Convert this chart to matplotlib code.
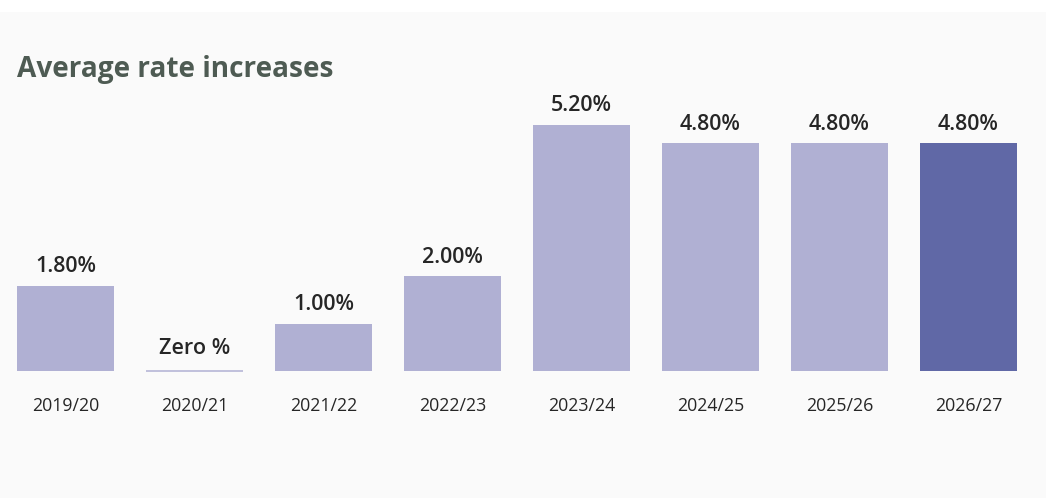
import matplotlib
matplotlib.use("Agg")
import matplotlib.pyplot as plt
from matplotlib.patches import Rectangle

plt.rcParams['font.family'] = ['Open Sans', 'DejaVu Sans']

# Financial years and average rate increases (%)
years = ["2019/20", "2020/21", "2021/22", "2022/23",
         "2023/24", "2024/25", "2025/26", "2026/27"]
increases = [1.80, 0.00, 1.00, 2.00, 5.20, 4.80, 4.80, 4.80]
highlight = "2026/27"

title = "Average rate increases"

W, H, DPI = 1046, 498, 100
fig = plt.figure(figsize=(W / DPI, H / DPI), dpi=DPI)
fig.patch.set_facecolor("white")

# light panel behind the chart
fig.add_artist(Rectangle((0, 0), 1, 1 - 12 / H, transform=fig.transFigure,
                         facecolor="#fafafa", edgecolor="none", zorder=-10))

base_px = 371          # baseline, pixels from top
top_px = 12
px_per_unit = 47.4
ax = fig.add_axes([0, (H - base_px) / H, 1, (base_px - top_px) / H])
ax.set_facecolor("none")

pitch = 129.0
first_center = 65.5
ax.set_xlim(-first_center / pitch, (W - first_center) / pitch)
ax.set_ylim(0, (base_px - top_px) / px_per_unit)

light = "#b0b0d3"
dark = "#6068a6"
xs = list(range(len(years)))
colors = [dark if y == highlight else light for y in years]

bars = ax.bar(xs, increases, width=97 / pitch, color=colors,
              edgecolor=colors, linewidth=0)
# a zero-height bar is shown as a thin stroke on the baseline
for b, v in zip(bars, increases):
    if v == 0:
        b.set_linewidth(1.1)
        b.set_clip_on(False)
        b.set_capstyle("butt")
        b.set_joinstyle("miter")

for x, v in zip(xs, increases):
    label = "Zero %" if v == 0 else f"{v:.2f}%"
    ax.annotate(label, (x, v), xytext=(0, 6 if v else 9),
                textcoords="offset points", ha="center", va="bottom",
                fontsize=15.5, fontweight="semibold", color="#262626")

ax.set_xticks(xs)
ax.set_xticklabels(years, fontsize=12.8, color="#262626")
ax.tick_params(axis="x", length=0, pad=19)
ax.set_yticks([])
for s in ax.spines.values():
    s.set_visible(False)

fig.text(17 / W, 1 - 77 / H, title, fontsize=20.2, fontweight="bold",
         color="#4e5b53", ha="left", va="baseline")

fig.savefig("out.png", dpi=DPI, facecolor=fig.get_facecolor())
